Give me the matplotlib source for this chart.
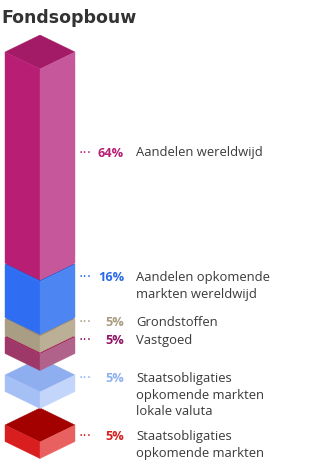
import matplotlib
matplotlib.use("Agg")
import matplotlib.pyplot as plt
from matplotlib.patches import Polygon

# ---- data ----
categories = [
    "Aandelen wereldwijd",
    "Aandelen opkomende\nmarkten wereldwijd",
    "Grondstoffen",
    "Vastgoed",
    "Staatsobligaties\nopkomende markten\nlokale valuta",
    "Staatsobligaties\nopkomende markten",
]
values = [64, 16, 5, 5, 5, 5]
pct_labels = ["64%", "16%", "5%", "5%", "5%", "5%"]
stacked = [True, True, True, True, False, False]
title = "Fondsopbouw"

# ---- styles ----
face_colors = [  # (top, left, right)
    ("#A31B66", "#B81F74", "#C6579A"),
    ("#2260E0", "#2F6EF2", "#4D86F3"),
    ("#9A8C70", "#A99D83", "#BBAF96"),
    ("#A50F50", "#9E3868", "#B0628A"),
    ("#8EAEF0", "#A5C0F5", "#C3D5FA"),
    ("#A30000", "#D81E1E", "#E96060"),
]
pct_colors = ["#B81F74", "#2A6AE8", "#A89B80", "#8E1464", "#8EB0F0", "#D41E1E"]
text_color = "#3a3a3a"

W, H = 332, 472
fig = plt.figure(figsize=(W / 100, H / 100), dpi=100)
ax = fig.add_axes([0, 0, 1, 1])
ax.set_xlim(0, W)
ax.set_ylim(H, 0)
ax.axis("off")

cx, hw, hh = 40, 35, 17   # block centre x, half width, half height of top face
k = 3.3                   # px per percent
gap = 1.5


def block(top, height, cols, z):
    t, l, r = cols
    ax.add_patch(Polygon([(cx - hw, top), (cx, top - hh), (cx + hw, top), (cx, top + hh)],
                         closed=True, fc=t, ec=t, lw=0.3, zorder=z))
    ax.add_patch(Polygon([(cx - hw, top), (cx, top + hh), (cx, top + hh + height), (cx - hw, top + height)],
                         closed=True, fc=l, ec=l, lw=0.3, zorder=z))
    ax.add_patch(Polygon([(cx, top + hh), (cx + hw, top), (cx + hw, top + height), (cx, top + hh + height)],
                         closed=True, fc=r, ec=r, lw=0.3, zorder=z))


# compute block positions
tops, heights, label_y = [], [], []
y = 52
prev_bottom = None
for i, v in enumerate(values):
    h = v * k
    if stacked[i]:
        top = y if prev_bottom is None else prev_bottom + gap
        label_y.append(top + h / 2 - 5)
    else:
        top = prev_bottom + (21.5 if stacked[i - 1] else 33.5)
        label_y.append(top + hh + 3)
    tops.append(top)
    heights.append(h)
    prev_bottom = top + h

n = len(values)
for i in range(n):
    z = 10 + (n - i)
    if not stacked[i]:
        z = 2 + (n - i)
    block(tops[i], heights[i], face_colors[i], z)

for i in range(n):
    nlines = categories[i].count("\n") + 1
    first_y = label_y[i] - (nlines - 1) * 17.5 / 2
    ax.text(79, first_y, "···", color=pct_colors[i], fontsize=10, ha="left", va="center",
            family="DejaVu Sans")
    ax.text(124, first_y + 0.5, pct_labels[i], color=pct_colors[i], fontsize=9.2, fontweight="bold",
            ha="right", va="center", family="Open Sans")
    ax.text(136, label_y[i], categories[i], color=text_color, fontsize=9.4, ha="left",
            va="center", linespacing=1.38, family="Open Sans")

ax.text(1, 18, title, color="#333333", fontsize=12.5, fontweight="bold", ha="left", va="center",
        family="DejaVu Sans")

fig.savefig("out.png", dpi=100)
